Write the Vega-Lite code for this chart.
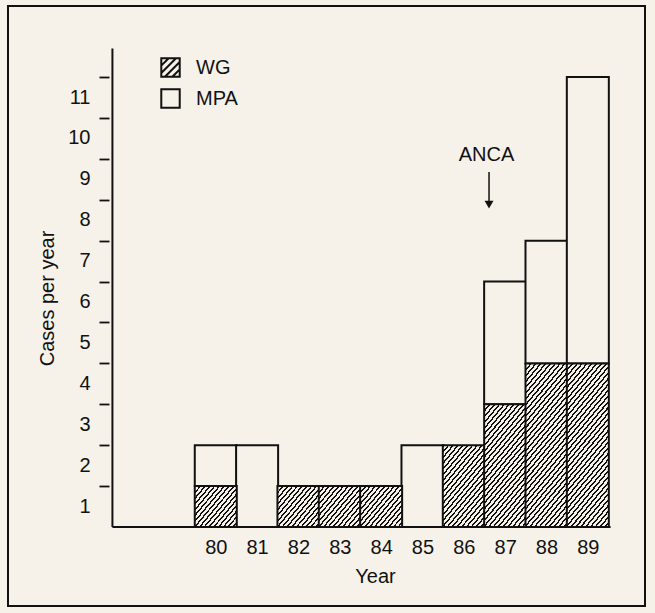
{
"$schema":"https://vega.github.io/schema/vega-lite/v6.json",
"width":637,"height":600,
"autosize":"none",
"padding":{"left":8,"top":6,"right":10,"bottom":7},
"background":"#f6f2ea",
"config":{
 "view":{"stroke":"#111","strokeWidth":2,"fill":"#f6f2ea"},
 "font":"Liberation Sans",
 "axis":{"labelFont":"Liberation Sans","titleFont":"Liberation Sans","labelColor":"#111","titleColor":"#111","labelFontSize":20,"titleFontSize":20,"titleFontWeight":"normal","grid":false,"domain":false},
 "legend":{"labelFont":"Liberation Sans"}
},
"data":{"values":[
 {"year":80,"type":"WG","count":1},{"year":80,"type":"MPA","count":1},
 {"year":81,"type":"MPA","count":2},
 {"year":82,"type":"WG","count":1},
 {"year":83,"type":"WG","count":1},
 {"year":84,"type":"WG","count":1},
 {"year":85,"type":"MPA","count":2},
 {"year":86,"type":"WG","count":2},
 {"year":87,"type":"WG","count":3},{"year":87,"type":"MPA","count":3},
 {"year":88,"type":"WG","count":4},{"year":88,"type":"MPA","count":3},
 {"year":89,"type":"WG","count":4},{"year":89,"type":"MPA","count":7}
]},
"transform":[{"stack":"count","groupby":["year"],"sort":[{"field":"type","order":"descending"}],"as":["lo","hi"]}],
"layer":[
 {"transform":[{"filter":"datum.type == 'MPA'"}],
  "mark":{"type":"bar","size":42,"fill":"#f6f2ea","stroke":"#111","strokeWidth":2},
  "encoding":{
   "x":{"field":"year","type":"quantitative","scale":{"domain":[75.095,90.262],"nice":false,"zero":false},
        "axis":{"values":[80,81,82,83,84,85,86,87,88,89],"format":"d","offset":-79,"ticks":false,"tickSize":0,"labelPadding":10,"labelFontSize":20,"labelFlush":false,"title":"Year","titleX":367,"titleY":55,"titleBaseline":"alphabetic","titleAlign":"center","domain":false,"grid":false}},
   "y":{"field":"lo","type":"quantitative","scale":{"domain":[-1.932,12.738],"nice":false,"zero":false},
        "axis":{"values":[1,2,3,4,5,6,7,8,9,10,11],"offset":-101,"tickSize":10,"tickWidth":1.8,"tickColor":"#111","labelPadding":9,"labelOffset":20,"labelFontSize":20,"labelFlush":false,"title":"Cases per year","titleX":-56,"titleY":292,"titleBaseline":"alphabetic","titleAngle":270,"titleAlign":"center","domain":false,"grid":false}},
   "y2":{"field":"hi"}
  }},
 {"transform":[{"filter":"datum.type == 'WG' && datum.count == 1"}],
  "mark":{"type":"bar","size":42,"stroke":"#111","strokeWidth":2,
   "fill":{"gradient":"linear","x1":0,"y1":0,"x2":1.0894,"y2":0.8906,"stops":[
{"offset":0,"color":"#111"},{"offset":0.0238,"color":"#111"},{"offset":0.0238,"color":"#f6f2ea"},{"offset":0.0625,"color":"#f6f2ea"},
{"offset":0.0625,"color":"#111"},{"offset":0.0863,"color":"#111"},{"offset":0.0863,"color":"#f6f2ea"},{"offset":0.125,"color":"#f6f2ea"},
{"offset":0.125,"color":"#111"},{"offset":0.1488,"color":"#111"},{"offset":0.1488,"color":"#f6f2ea"},{"offset":0.1875,"color":"#f6f2ea"},
{"offset":0.1875,"color":"#111"},{"offset":0.2113,"color":"#111"},{"offset":0.2113,"color":"#f6f2ea"},{"offset":0.25,"color":"#f6f2ea"},
{"offset":0.25,"color":"#111"},{"offset":0.2738,"color":"#111"},{"offset":0.2738,"color":"#f6f2ea"},{"offset":0.3125,"color":"#f6f2ea"},
{"offset":0.3125,"color":"#111"},{"offset":0.3363,"color":"#111"},{"offset":0.3363,"color":"#f6f2ea"},{"offset":0.375,"color":"#f6f2ea"},
{"offset":0.375,"color":"#111"},{"offset":0.3988,"color":"#111"},{"offset":0.3988,"color":"#f6f2ea"},{"offset":0.4375,"color":"#f6f2ea"},
{"offset":0.4375,"color":"#111"},{"offset":0.4613,"color":"#111"},{"offset":0.4613,"color":"#f6f2ea"},{"offset":0.5,"color":"#f6f2ea"},
{"offset":0.5,"color":"#111"},{"offset":0.5238,"color":"#111"},{"offset":0.5238,"color":"#f6f2ea"},{"offset":0.5625,"color":"#f6f2ea"},
{"offset":0.5625,"color":"#111"},{"offset":0.5863,"color":"#111"},{"offset":0.5863,"color":"#f6f2ea"},{"offset":0.625,"color":"#f6f2ea"},
{"offset":0.625,"color":"#111"},{"offset":0.6488,"color":"#111"},{"offset":0.6488,"color":"#f6f2ea"},{"offset":0.6875,"color":"#f6f2ea"},
{"offset":0.6875,"color":"#111"},{"offset":0.7113,"color":"#111"},{"offset":0.7113,"color":"#f6f2ea"},{"offset":0.75,"color":"#f6f2ea"},
{"offset":0.75,"color":"#111"},{"offset":0.7738,"color":"#111"},{"offset":0.7738,"color":"#f6f2ea"},{"offset":0.8125,"color":"#f6f2ea"},
{"offset":0.8125,"color":"#111"},{"offset":0.8363,"color":"#111"},{"offset":0.8363,"color":"#f6f2ea"},{"offset":0.875,"color":"#f6f2ea"},
{"offset":0.875,"color":"#111"},{"offset":0.8988,"color":"#111"},{"offset":0.8988,"color":"#f6f2ea"},{"offset":0.9375,"color":"#f6f2ea"},
{"offset":0.9375,"color":"#111"},{"offset":0.9613,"color":"#111"},{"offset":0.9613,"color":"#f6f2ea"},{"offset":1,"color":"#f6f2ea"}
   ]}},
  "encoding":{
   "x":{"field":"year","type":"quantitative","scale":{"domain":[75.095,90.262],"nice":false,"zero":false}},
   "y":{"field":"lo","type":"quantitative","scale":{"domain":[-1.932,12.738],"nice":false,"zero":false}},
   "y2":{"field":"hi"}
  }},
 {"transform":[{"filter":"datum.type == 'WG' && datum.count == 2"}],
  "mark":{"type":"bar","size":42,"stroke":"#111","strokeWidth":2,
   "fill":{"gradient":"linear","x1":0,"y1":0,"x2":0.7173,"y2":1.1729,"stops":[
{"offset":0,"color":"#111"},{"offset":0.0165,"color":"#111"},{"offset":0.0165,"color":"#f6f2ea"},{"offset":0.0435,"color":"#f6f2ea"},
{"offset":0.0435,"color":"#111"},{"offset":0.06,"color":"#111"},{"offset":0.06,"color":"#f6f2ea"},{"offset":0.087,"color":"#f6f2ea"},
{"offset":0.087,"color":"#111"},{"offset":0.1035,"color":"#111"},{"offset":0.1035,"color":"#f6f2ea"},{"offset":0.1304,"color":"#f6f2ea"},
{"offset":0.1304,"color":"#111"},{"offset":0.1469,"color":"#111"},{"offset":0.1469,"color":"#f6f2ea"},{"offset":0.1739,"color":"#f6f2ea"},
{"offset":0.1739,"color":"#111"},{"offset":0.1904,"color":"#111"},{"offset":0.1904,"color":"#f6f2ea"},{"offset":0.2174,"color":"#f6f2ea"},
{"offset":0.2174,"color":"#111"},{"offset":0.2339,"color":"#111"},{"offset":0.2339,"color":"#f6f2ea"},{"offset":0.2609,"color":"#f6f2ea"},
{"offset":0.2609,"color":"#111"},{"offset":0.2774,"color":"#111"},{"offset":0.2774,"color":"#f6f2ea"},{"offset":0.3043,"color":"#f6f2ea"},
{"offset":0.3043,"color":"#111"},{"offset":0.3208,"color":"#111"},{"offset":0.3208,"color":"#f6f2ea"},{"offset":0.3478,"color":"#f6f2ea"},
{"offset":0.3478,"color":"#111"},{"offset":0.3643,"color":"#111"},{"offset":0.3643,"color":"#f6f2ea"},{"offset":0.3913,"color":"#f6f2ea"},
{"offset":0.3913,"color":"#111"},{"offset":0.4078,"color":"#111"},{"offset":0.4078,"color":"#f6f2ea"},{"offset":0.4348,"color":"#f6f2ea"},
{"offset":0.4348,"color":"#111"},{"offset":0.4513,"color":"#111"},{"offset":0.4513,"color":"#f6f2ea"},{"offset":0.4783,"color":"#f6f2ea"},
{"offset":0.4783,"color":"#111"},{"offset":0.4948,"color":"#111"},{"offset":0.4948,"color":"#f6f2ea"},{"offset":0.5217,"color":"#f6f2ea"},
{"offset":0.5217,"color":"#111"},{"offset":0.5382,"color":"#111"},{"offset":0.5382,"color":"#f6f2ea"},{"offset":0.5652,"color":"#f6f2ea"},
{"offset":0.5652,"color":"#111"},{"offset":0.5817,"color":"#111"},{"offset":0.5817,"color":"#f6f2ea"},{"offset":0.6087,"color":"#f6f2ea"},
{"offset":0.6087,"color":"#111"},{"offset":0.6252,"color":"#111"},{"offset":0.6252,"color":"#f6f2ea"},{"offset":0.6522,"color":"#f6f2ea"},
{"offset":0.6522,"color":"#111"},{"offset":0.6687,"color":"#111"},{"offset":0.6687,"color":"#f6f2ea"},{"offset":0.6957,"color":"#f6f2ea"},
{"offset":0.6957,"color":"#111"},{"offset":0.7122,"color":"#111"},{"offset":0.7122,"color":"#f6f2ea"},{"offset":0.7391,"color":"#f6f2ea"},
{"offset":0.7391,"color":"#111"},{"offset":0.7556,"color":"#111"},{"offset":0.7556,"color":"#f6f2ea"},{"offset":0.7826,"color":"#f6f2ea"},
{"offset":0.7826,"color":"#111"},{"offset":0.7991,"color":"#111"},{"offset":0.7991,"color":"#f6f2ea"},{"offset":0.8261,"color":"#f6f2ea"},
{"offset":0.8261,"color":"#111"},{"offset":0.8426,"color":"#111"},{"offset":0.8426,"color":"#f6f2ea"},{"offset":0.8696,"color":"#f6f2ea"},
{"offset":0.8696,"color":"#111"},{"offset":0.8861,"color":"#111"},{"offset":0.8861,"color":"#f6f2ea"},{"offset":0.913,"color":"#f6f2ea"},
{"offset":0.913,"color":"#111"},{"offset":0.9295,"color":"#111"},{"offset":0.9295,"color":"#f6f2ea"},{"offset":0.9565,"color":"#f6f2ea"},
{"offset":0.9565,"color":"#111"},{"offset":0.973,"color":"#111"},{"offset":0.973,"color":"#f6f2ea"},{"offset":1,"color":"#f6f2ea"}
   ]}},
  "encoding":{
   "x":{"field":"year","type":"quantitative","scale":{"domain":[75.095,90.262],"nice":false,"zero":false}},
   "y":{"field":"lo","type":"quantitative","scale":{"domain":[-1.932,12.738],"nice":false,"zero":false}},
   "y2":{"field":"hi"}
  }},
 {"transform":[{"filter":"datum.type == 'WG' && datum.count == 3"}],
  "mark":{"type":"bar","size":42,"stroke":"#111","strokeWidth":2,
   "fill":{"gradient":"linear","x1":0,"y1":0,"x2":0.4922,"y2":1.2071,"stops":[
{"offset":0,"color":"#111"},{"offset":0.0127,"color":"#111"},{"offset":0.0127,"color":"#f6f2ea"},{"offset":0.0333,"color":"#f6f2ea"},
{"offset":0.0333,"color":"#111"},{"offset":0.046,"color":"#111"},{"offset":0.046,"color":"#f6f2ea"},{"offset":0.0667,"color":"#f6f2ea"},
{"offset":0.0667,"color":"#111"},{"offset":0.0794,"color":"#111"},{"offset":0.0794,"color":"#f6f2ea"},{"offset":0.1,"color":"#f6f2ea"},
{"offset":0.1,"color":"#111"},{"offset":0.1127,"color":"#111"},{"offset":0.1127,"color":"#f6f2ea"},{"offset":0.1333,"color":"#f6f2ea"},
{"offset":0.1333,"color":"#111"},{"offset":0.146,"color":"#111"},{"offset":0.146,"color":"#f6f2ea"},{"offset":0.1667,"color":"#f6f2ea"},
{"offset":0.1667,"color":"#111"},{"offset":0.1794,"color":"#111"},{"offset":0.1794,"color":"#f6f2ea"},{"offset":0.2,"color":"#f6f2ea"},
{"offset":0.2,"color":"#111"},{"offset":0.2127,"color":"#111"},{"offset":0.2127,"color":"#f6f2ea"},{"offset":0.2333,"color":"#f6f2ea"},
{"offset":0.2333,"color":"#111"},{"offset":0.246,"color":"#111"},{"offset":0.246,"color":"#f6f2ea"},{"offset":0.2667,"color":"#f6f2ea"},
{"offset":0.2667,"color":"#111"},{"offset":0.2794,"color":"#111"},{"offset":0.2794,"color":"#f6f2ea"},{"offset":0.3,"color":"#f6f2ea"},
{"offset":0.3,"color":"#111"},{"offset":0.3127,"color":"#111"},{"offset":0.3127,"color":"#f6f2ea"},{"offset":0.3333,"color":"#f6f2ea"},
{"offset":0.3333,"color":"#111"},{"offset":0.346,"color":"#111"},{"offset":0.346,"color":"#f6f2ea"},{"offset":0.3667,"color":"#f6f2ea"},
{"offset":0.3667,"color":"#111"},{"offset":0.3794,"color":"#111"},{"offset":0.3794,"color":"#f6f2ea"},{"offset":0.4,"color":"#f6f2ea"},
{"offset":0.4,"color":"#111"},{"offset":0.4127,"color":"#111"},{"offset":0.4127,"color":"#f6f2ea"},{"offset":0.4333,"color":"#f6f2ea"},
{"offset":0.4333,"color":"#111"},{"offset":0.446,"color":"#111"},{"offset":0.446,"color":"#f6f2ea"},{"offset":0.4667,"color":"#f6f2ea"},
{"offset":0.4667,"color":"#111"},{"offset":0.4794,"color":"#111"},{"offset":0.4794,"color":"#f6f2ea"},{"offset":0.5,"color":"#f6f2ea"},
{"offset":0.5,"color":"#111"},{"offset":0.5127,"color":"#111"},{"offset":0.5127,"color":"#f6f2ea"},{"offset":0.5333,"color":"#f6f2ea"},
{"offset":0.5333,"color":"#111"},{"offset":0.546,"color":"#111"},{"offset":0.546,"color":"#f6f2ea"},{"offset":0.5667,"color":"#f6f2ea"},
{"offset":0.5667,"color":"#111"},{"offset":0.5794,"color":"#111"},{"offset":0.5794,"color":"#f6f2ea"},{"offset":0.6,"color":"#f6f2ea"},
{"offset":0.6,"color":"#111"},{"offset":0.6127,"color":"#111"},{"offset":0.6127,"color":"#f6f2ea"},{"offset":0.6333,"color":"#f6f2ea"},
{"offset":0.6333,"color":"#111"},{"offset":0.646,"color":"#111"},{"offset":0.646,"color":"#f6f2ea"},{"offset":0.6667,"color":"#f6f2ea"},
{"offset":0.6667,"color":"#111"},{"offset":0.6794,"color":"#111"},{"offset":0.6794,"color":"#f6f2ea"},{"offset":0.7,"color":"#f6f2ea"},
{"offset":0.7,"color":"#111"},{"offset":0.7127,"color":"#111"},{"offset":0.7127,"color":"#f6f2ea"},{"offset":0.7333,"color":"#f6f2ea"},
{"offset":0.7333,"color":"#111"},{"offset":0.746,"color":"#111"},{"offset":0.746,"color":"#f6f2ea"},{"offset":0.7667,"color":"#f6f2ea"},
{"offset":0.7667,"color":"#111"},{"offset":0.7794,"color":"#111"},{"offset":0.7794,"color":"#f6f2ea"},{"offset":0.8,"color":"#f6f2ea"},
{"offset":0.8,"color":"#111"},{"offset":0.8127,"color":"#111"},{"offset":0.8127,"color":"#f6f2ea"},{"offset":0.8333,"color":"#f6f2ea"},
{"offset":0.8333,"color":"#111"},{"offset":0.846,"color":"#111"},{"offset":0.846,"color":"#f6f2ea"},{"offset":0.8667,"color":"#f6f2ea"},
{"offset":0.8667,"color":"#111"},{"offset":0.8794,"color":"#111"},{"offset":0.8794,"color":"#f6f2ea"},{"offset":0.9,"color":"#f6f2ea"},
{"offset":0.9,"color":"#111"},{"offset":0.9127,"color":"#111"},{"offset":0.9127,"color":"#f6f2ea"},{"offset":0.9333,"color":"#f6f2ea"},
{"offset":0.9333,"color":"#111"},{"offset":0.946,"color":"#111"},{"offset":0.946,"color":"#f6f2ea"},{"offset":0.9667,"color":"#f6f2ea"},
{"offset":0.9667,"color":"#111"},{"offset":0.9794,"color":"#111"},{"offset":0.9794,"color":"#f6f2ea"},{"offset":1,"color":"#f6f2ea"}
   ]}},
  "encoding":{
   "x":{"field":"year","type":"quantitative","scale":{"domain":[75.095,90.262],"nice":false,"zero":false}},
   "y":{"field":"lo","type":"quantitative","scale":{"domain":[-1.932,12.738],"nice":false,"zero":false}},
   "y2":{"field":"hi"}
  }},
 {"transform":[{"filter":"datum.type == 'WG' && datum.count == 4"}],
  "mark":{"type":"bar","size":42,"stroke":"#111","strokeWidth":2,
   "fill":{"gradient":"linear","x1":0,"y1":0,"x2":0.3652,"y2":1.1941,"stops":[
{"offset":0,"color":"#111"},{"offset":0.0103,"color":"#111"},{"offset":0.0103,"color":"#f6f2ea"},{"offset":0.027,"color":"#f6f2ea"},
{"offset":0.027,"color":"#111"},{"offset":0.0373,"color":"#111"},{"offset":0.0373,"color":"#f6f2ea"},{"offset":0.0541,"color":"#f6f2ea"},
{"offset":0.0541,"color":"#111"},{"offset":0.0644,"color":"#111"},{"offset":0.0644,"color":"#f6f2ea"},{"offset":0.0811,"color":"#f6f2ea"},
{"offset":0.0811,"color":"#111"},{"offset":0.0914,"color":"#111"},{"offset":0.0914,"color":"#f6f2ea"},{"offset":0.1081,"color":"#f6f2ea"},
{"offset":0.1081,"color":"#111"},{"offset":0.1184,"color":"#111"},{"offset":0.1184,"color":"#f6f2ea"},{"offset":0.1351,"color":"#f6f2ea"},
{"offset":0.1351,"color":"#111"},{"offset":0.1454,"color":"#111"},{"offset":0.1454,"color":"#f6f2ea"},{"offset":0.1622,"color":"#f6f2ea"},
{"offset":0.1622,"color":"#111"},{"offset":0.1725,"color":"#111"},{"offset":0.1725,"color":"#f6f2ea"},{"offset":0.1892,"color":"#f6f2ea"},
{"offset":0.1892,"color":"#111"},{"offset":0.1995,"color":"#111"},{"offset":0.1995,"color":"#f6f2ea"},{"offset":0.2162,"color":"#f6f2ea"},
{"offset":0.2162,"color":"#111"},{"offset":0.2265,"color":"#111"},{"offset":0.2265,"color":"#f6f2ea"},{"offset":0.2432,"color":"#f6f2ea"},
{"offset":0.2432,"color":"#111"},{"offset":0.2535,"color":"#111"},{"offset":0.2535,"color":"#f6f2ea"},{"offset":0.2703,"color":"#f6f2ea"},
{"offset":0.2703,"color":"#111"},{"offset":0.2806,"color":"#111"},{"offset":0.2806,"color":"#f6f2ea"},{"offset":0.2973,"color":"#f6f2ea"},
{"offset":0.2973,"color":"#111"},{"offset":0.3076,"color":"#111"},{"offset":0.3076,"color":"#f6f2ea"},{"offset":0.3243,"color":"#f6f2ea"},
{"offset":0.3243,"color":"#111"},{"offset":0.3346,"color":"#111"},{"offset":0.3346,"color":"#f6f2ea"},{"offset":0.3514,"color":"#f6f2ea"},
{"offset":0.3514,"color":"#111"},{"offset":0.3617,"color":"#111"},{"offset":0.3617,"color":"#f6f2ea"},{"offset":0.3784,"color":"#f6f2ea"},
{"offset":0.3784,"color":"#111"},{"offset":0.3887,"color":"#111"},{"offset":0.3887,"color":"#f6f2ea"},{"offset":0.4054,"color":"#f6f2ea"},
{"offset":0.4054,"color":"#111"},{"offset":0.4157,"color":"#111"},{"offset":0.4157,"color":"#f6f2ea"},{"offset":0.4324,"color":"#f6f2ea"},
{"offset":0.4324,"color":"#111"},{"offset":0.4427,"color":"#111"},{"offset":0.4427,"color":"#f6f2ea"},{"offset":0.4595,"color":"#f6f2ea"},
{"offset":0.4595,"color":"#111"},{"offset":0.4698,"color":"#111"},{"offset":0.4698,"color":"#f6f2ea"},{"offset":0.4865,"color":"#f6f2ea"},
{"offset":0.4865,"color":"#111"},{"offset":0.4968,"color":"#111"},{"offset":0.4968,"color":"#f6f2ea"},{"offset":0.5135,"color":"#f6f2ea"},
{"offset":0.5135,"color":"#111"},{"offset":0.5238,"color":"#111"},{"offset":0.5238,"color":"#f6f2ea"},{"offset":0.5405,"color":"#f6f2ea"},
{"offset":0.5405,"color":"#111"},{"offset":0.5508,"color":"#111"},{"offset":0.5508,"color":"#f6f2ea"},{"offset":0.5676,"color":"#f6f2ea"},
{"offset":0.5676,"color":"#111"},{"offset":0.5779,"color":"#111"},{"offset":0.5779,"color":"#f6f2ea"},{"offset":0.5946,"color":"#f6f2ea"},
{"offset":0.5946,"color":"#111"},{"offset":0.6049,"color":"#111"},{"offset":0.6049,"color":"#f6f2ea"},{"offset":0.6216,"color":"#f6f2ea"},
{"offset":0.6216,"color":"#111"},{"offset":0.6319,"color":"#111"},{"offset":0.6319,"color":"#f6f2ea"},{"offset":0.6486,"color":"#f6f2ea"},
{"offset":0.6486,"color":"#111"},{"offset":0.6589,"color":"#111"},{"offset":0.6589,"color":"#f6f2ea"},{"offset":0.6757,"color":"#f6f2ea"},
{"offset":0.6757,"color":"#111"},{"offset":0.686,"color":"#111"},{"offset":0.686,"color":"#f6f2ea"},{"offset":0.7027,"color":"#f6f2ea"},
{"offset":0.7027,"color":"#111"},{"offset":0.713,"color":"#111"},{"offset":0.713,"color":"#f6f2ea"},{"offset":0.7297,"color":"#f6f2ea"},
{"offset":0.7297,"color":"#111"},{"offset":0.74,"color":"#111"},{"offset":0.74,"color":"#f6f2ea"},{"offset":0.7568,"color":"#f6f2ea"},
{"offset":0.7568,"color":"#111"},{"offset":0.7671,"color":"#111"},{"offset":0.7671,"color":"#f6f2ea"},{"offset":0.7838,"color":"#f6f2ea"},
{"offset":0.7838,"color":"#111"},{"offset":0.7941,"color":"#111"},{"offset":0.7941,"color":"#f6f2ea"},{"offset":0.8108,"color":"#f6f2ea"},
{"offset":0.8108,"color":"#111"},{"offset":0.8211,"color":"#111"},{"offset":0.8211,"color":"#f6f2ea"},{"offset":0.8378,"color":"#f6f2ea"},
{"offset":0.8378,"color":"#111"},{"offset":0.8481,"color":"#111"},{"offset":0.8481,"color":"#f6f2ea"},{"offset":0.8649,"color":"#f6f2ea"},
{"offset":0.8649,"color":"#111"},{"offset":0.8752,"color":"#111"},{"offset":0.8752,"color":"#f6f2ea"},{"offset":0.8919,"color":"#f6f2ea"},
{"offset":0.8919,"color":"#111"},{"offset":0.9022,"color":"#111"},{"offset":0.9022,"color":"#f6f2ea"},{"offset":0.9189,"color":"#f6f2ea"},
{"offset":0.9189,"color":"#111"},{"offset":0.9292,"color":"#111"},{"offset":0.9292,"color":"#f6f2ea"},{"offset":0.9459,"color":"#f6f2ea"},
{"offset":0.9459,"color":"#111"},{"offset":0.9562,"color":"#111"},{"offset":0.9562,"color":"#f6f2ea"},{"offset":0.973,"color":"#f6f2ea"},
{"offset":0.973,"color":"#111"},{"offset":0.9833,"color":"#111"},{"offset":0.9833,"color":"#f6f2ea"},{"offset":1,"color":"#f6f2ea"}
   ]}},
  "encoding":{
   "x":{"field":"year","type":"quantitative","scale":{"domain":[75.095,90.262],"nice":false,"zero":false}},
   "y":{"field":"lo","type":"quantitative","scale":{"domain":[-1.932,12.738],"nice":false,"zero":false}},
   "y2":{"field":"hi"}
  }},
 {"data":{"values":[{}]},
  "mark":{"type":"rule","stroke":"#111","strokeWidth":2},
  "encoding":{
   "x":{"datum":77.5,"type":"quantitative","scale":{"domain":[75.095,90.262],"nice":false,"zero":false}},
   "y":{"datum":0,"type":"quantitative","scale":{"domain":[-1.932,12.738],"nice":false,"zero":false}},
   "y2":{"datum":11.7}
  }},
 {"data":{"values":[{}]},
  "mark":{"type":"rule","stroke":"#111","strokeWidth":2},
  "encoding":{
   "x":{"datum":77.5,"type":"quantitative","scale":{"domain":[75.095,90.262],"nice":false,"zero":false}},
   "x2":{"datum":89.55},
   "y":{"datum":0,"type":"quantitative","scale":{"domain":[-1.932,12.738],"nice":false,"zero":false}}
  }},
 {"data":{"values":[{"label":"ANCA"}]},
  "mark":{"type":"text","fontSize":20,"font":"Liberation Sans","color":"#111","align":"center","baseline":"middle"},
  "encoding":{
   "x":{"datum":86.55,"type":"quantitative","scale":{"domain":[75.095,90.262],"nice":false,"zero":false}},
   "y":{"datum":9.1,"type":"quantitative","scale":{"domain":[-1.932,12.738],"nice":false,"zero":false}},
   "text":{"field":"label"}
  }},
 {"data":{"values":[{}]},
  "mark":{"type":"rule","stroke":"#111","strokeWidth":1.5},
  "encoding":{
   "x":{"datum":86.61,"type":"quantitative","scale":{"domain":[75.095,90.262],"nice":false,"zero":false}},
   "y":{"datum":8.68,"type":"quantitative","scale":{"domain":[-1.932,12.738],"nice":false,"zero":false}},
   "y2":{"datum":7.95}
  }},
 {"data":{"values":[{}]},
  "mark":{"type":"point","shape":"triangle-down","filled":true,"color":"#111","size":80,"opacity":1},
  "encoding":{
   "x":{"datum":86.61,"type":"quantitative","scale":{"domain":[75.095,90.262],"nice":false,"zero":false}},
   "y":{"datum":7.88,"type":"quantitative","scale":{"domain":[-1.932,12.738],"nice":false,"zero":false}}
  }},
 {"transform":[{"filter":"datum.count < 0"}],
  "mark":{"type":"point","filled":false,"stroke":"#111","color":"#111","strokeWidth":2,"opacity":1},
  "encoding":{
   "x":{"field":"year","type":"quantitative","scale":{"domain":[75.095,90.262],"nice":false,"zero":false}},
   "y":{"field":"hi","type":"quantitative","scale":{"domain":[-1.932,12.738],"nice":false,"zero":false}},
   "shape":{"field":"type","type":"nominal",
     "scale":{"domain":["WG","MPA"],"range":["M-1,-1L1,-1L1,1L-1,1Z M-1,-0.2L-0.2,-1 M-1,0.6L0.6,-1 M-0.6,1L1,-0.6 M0.2,1L1,0.2","square"]},
     "legend":{"title":null,"orient":"none","legendX":152,"legendY":51,"symbolSize":340,"symbolStrokeWidth":2,"symbolStrokeColor":"#111","symbolFillColor":"transparent","symbolOpacity":1,"labelFontSize":20,"labelFont":"Liberation Sans","labelColor":"#111","labelOffset":15,"rowPadding":4,"padding":0}}
  }}
]
}
